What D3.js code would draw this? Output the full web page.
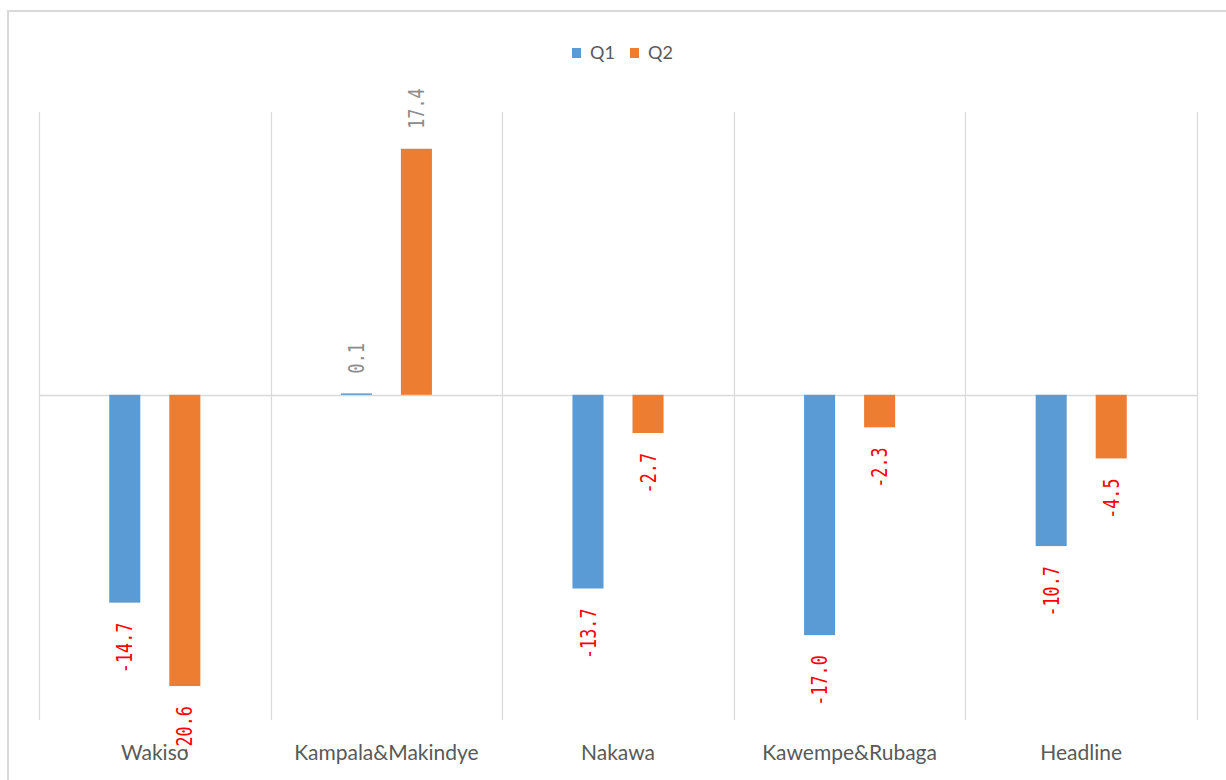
<!DOCTYPE html>
<html>
<head>
<meta charset="utf-8">
<script src="https://cdn.jsdelivr.net/npm/d3@7/dist/d3.min.js"></script>
<style>
  body { margin: 0; background: #fff; }
  svg { display: block; }
</style>
</head>
<body>
<div id="container"></div>
<script>
const categories = ["Wakiso", "Kampala&Makindye", "Nakawa", "Kawempe&Rubaga", "Headline"]
const seriesNames = ["Q1", "Q2"]
const q1 = [-14.7, 0.1, -13.7, -17.0, -10.7]
const q2 = [-20.6, 17.4, -2.7, -2.3, -4.5]

const colors = { Q1: "#5B9BD5", Q2: "#ED7D31" }

const W = 1226, H = 780
const svg = d3.select("#container").append("svg")
    .attr("width", W)
    .attr("height", H)

// chart frame (only the top-left part is visible in the picture)
svg.append("rect")
    .attr("x", 8).attr("y", 11)
    .attr("width", 1240).attr("height", 800)
    .attr("fill", "#fff")
    .attr("stroke", "#d9d9d9")
    .attr("stroke-width", 2)

const plotLeft = 39, plotRight = 1197, plotTop = 112, plotBottom = 720

const x0 = d3.scaleBand()
    .domain(categories)
    .range([plotLeft, plotRight])
    .padding(0)

const x1 = d3.scaleBand()
    .domain(seriesNames)
    .range([0, x0.bandwidth()])
    .paddingInner(0.483)
    .paddingOuter(1.17)

const y = d3.scaleLinear()
    .domain([-23, 20])
    .range([plotBottom, plotTop])

// vertical separators
const seps = categories.map((c) => x0(c)).concat([plotRight])
svg.append("g").selectAll("line")
    .data(seps)
    .join("line")
    .attr("x1", d => Math.round(d) + 0.5)
    .attr("x2", d => Math.round(d) + 0.5)
    .attr("y1", plotTop)
    .attr("y2", plotBottom)
    .attr("stroke", "#d9d9d9")
    .attr("stroke-width", 1.2)

// zero line
svg.append("line")
    .attr("x1", plotLeft).attr("x2", plotRight)
    .attr("y1", Math.round(y(0)) + 0.5).attr("y2", Math.round(y(0)) + 0.5)
    .attr("stroke", "#d9d9d9")
    .attr("stroke-width", 1.5)

const rows = categories.map((c, i) => ({ cat: c, values: [
    { key: "Q1", v: q1[i] },
    { key: "Q2", v: q2[i] }
] }))

const groups = svg.append("g").selectAll("g")
    .data(rows)
    .join("g")
    .attr("transform", d => `translate(${x0(d.cat)},0)`)

groups.selectAll("rect")
    .data(d => d.values)
    .join("rect")
    .attr("x", d => x1(d.key))
    .attr("width", x1.bandwidth())
    .attr("y", d => y(Math.max(0, d.v)))
    .attr("height", d => Math.max(1.5, Math.abs(y(d.v) - y(0))))
    .attr("fill", d => colors[d.key])

// plain hyphen for the minus sign, like the original labels
const fmt = d3.formatLocale({ decimal: ".", thousands: ",", grouping: [3], currency: ["", ""], minus: "-" }).format(".1f")
const gap = 20

groups.selectAll("text")
    .data(d => d.values)
    .join("text")
    .attr("transform", d => {
        let cx = x1(d.key) + x1.bandwidth() / 2
        let cy = d.v >= 0 ? y(d.v) - gap : y(d.v) + gap
        return `translate(${cx},${cy}) rotate(-90) scale(0.8,1)`
    })
    .attr("text-anchor", d => d.v >= 0 ? "start" : "end")
    .attr("dy", "0.36em")
    .attr("font-family", "DejaVu Sans Mono, monospace")
    .attr("font-size", 21)
    .attr("fill", d => d.v >= 0 ? "#8c8c8c" : "#ff0000")
    .text(d => fmt(d.v))

// category labels
svg.append("g").selectAll("text")
    .data(categories)
    .join("text")
    .attr("x", d => x0(d) + x0.bandwidth() / 2)
    .attr("y", 760)
    .attr("text-anchor", "middle")
    .attr("font-family", "Lato, sans-serif")
    .attr("font-size", 21)
    .attr("fill", "#595959")
    .text(d => d)

// legend
const legend = svg.append("g")
const legendX = [572, 630]
seriesNames.forEach((s, i) => {
    legend.append("rect")
        .attr("x", legendX[i]).attr("y", 48)
        .attr("width", 9).attr("height", 10)
        .attr("fill", colors[s])
    legend.append("text")
        .attr("x", legendX[i] + 18).attr("y", 59)
        .attr("font-family", "Lato, sans-serif")
        .attr("font-size", 18)
        .attr("fill", "#595959")
        .text(s)
})
</script>
</body>
</html>
